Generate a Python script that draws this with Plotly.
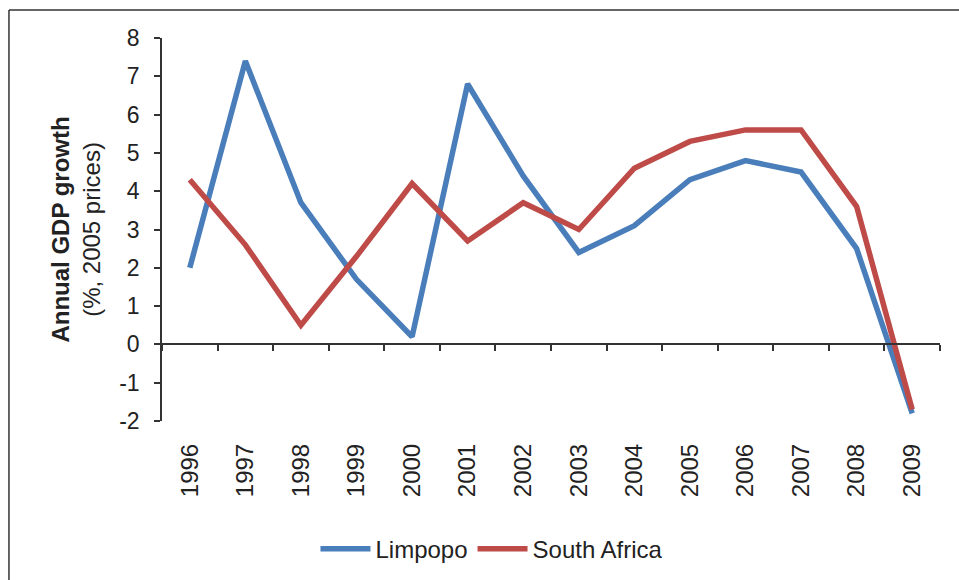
import plotly.graph_objects as go

years = ["1996", "1997", "1998", "1999", "2000", "2001", "2002",
         "2003", "2004", "2005", "2006", "2007", "2008", "2009"]
limpopo = [2.0, 7.4, 3.7, 1.7, 0.2, 6.8, 4.4, 2.4, 3.1, 4.3, 4.8, 4.5, 2.5, -1.8]
south_africa = [4.3, 2.6, 0.5, 2.3, 4.2, 2.7, 3.7, 3.0, 4.6, 5.3, 5.6, 5.6, 3.6, -1.7]
y_ticks = [-2, -1, 0, 1, 2, 3, 4, 5, 6, 7, 8]
y_tick_labels = ["-2", "-1", "0", "1", "2", "3", "4", "5", "6", "7", "8"]

FONT = "Liberation Sans, Arial, sans-serif"
AX = "#333333"

fig = go.Figure()
fig.add_trace(go.Scatter(x=years, y=limpopo, mode="lines", name="Limpopo",
                         line=dict(color="#4A7EBB", width=5.5)))
fig.add_trace(go.Scatter(x=years, y=south_africa, mode="lines", name="South Africa",
                         line=dict(color="#BE4B48", width=5.5)))
# helper trace for the axis drawn through zero
boundaries = [i - 0.5 for i in range(len(years) + 1)]
fig.add_trace(go.Scatter(x=boundaries, y=[None] * len(boundaries), xaxis="x2",
                         showlegend=False, hoverinfo="skip", mode="lines"))

fig.update_layout(
    width=959, height=580,
    margin=dict(l=162, r=19, t=38, b=159),
    paper_bgcolor="white", plot_bgcolor="white",
    font=dict(family=FONT, color="#222222", size=22),
    xaxis=dict(type="category", range=[-0.5, len(years) - 0.5],
               showline=False, showgrid=False, zeroline=False, ticks="",
               tickangle=-90, ticklabelstandoff=17,
               tickfont=dict(size=24)),
    xaxis2=dict(overlaying="x", anchor="free", position=0.2, side="bottom",
                range=[-0.5, len(years) - 0.5], showgrid=False, zeroline=False,
                showline=True, linecolor=AX, linewidth=1.5,
                ticks="outside", ticklen=6, tickwidth=1.5, tickcolor=AX,
                tickvals=boundaries, showticklabels=False),
    yaxis=dict(range=[-2, 8], tickvals=y_ticks, ticktext=y_tick_labels,
               showgrid=False, zeroline=False,
               showline=True, linecolor=AX, linewidth=1.5,
               ticks="outside", ticklen=6, tickwidth=1.5, tickcolor=AX,
               ticklabelstandoff=10, tickfont=dict(size=23),
               title=dict(text="<b>Annual GDP growth</b><br>(%, 2005 prices)",
                          font=dict(size=24), standoff=12)),
    legend=dict(orientation="h", xref="container", yref="container",
                x=0.513, xanchor="center", y=0.053, yanchor="middle",
                font=dict(size=24), itemwidth=50, tracegroupgap=0),
    shapes=[
        dict(type="line", xref="paper", yref="paper",
             x0=-0.1967, x1=1.2, y0=1.073, y1=1.073,
             line=dict(color="#333333", width=1.5)),
        dict(type="line", xref="paper", yref="paper",
             x0=-0.1967, x1=-0.1967, y0=1.073, y1=-0.6,
             line=dict(color="#333333", width=1.5)),
    ],
)

fig.write_html("out.html", config={"displayModeBar": False},
               post_script="document.body.style.margin='0';document.body.style.padding='0';")
